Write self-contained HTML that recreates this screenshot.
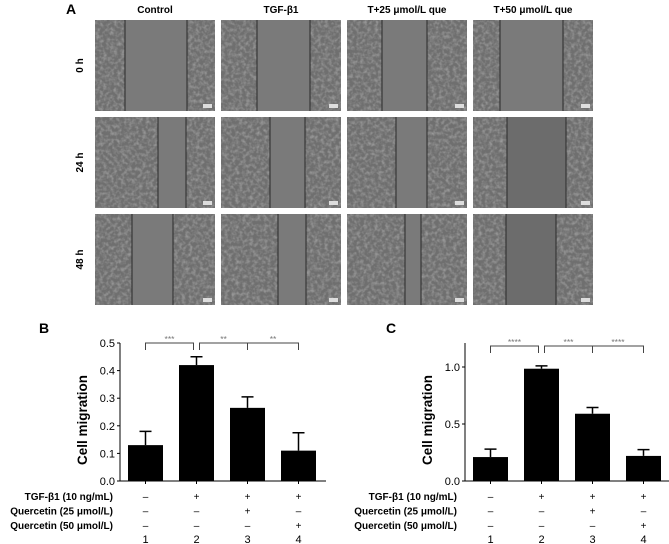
<!DOCTYPE html>
<html><head><meta charset="utf-8"><style>
body{margin:0;background:#fff;}
svg{display:block;font-family:"Liberation Sans",Arial,sans-serif;}
</style></head><body>
<svg id="fig" width="669" height="544" viewBox="0 0 669 544">
<defs>
<filter id="tex" x="0" y="0" width="100%" height="100%">
<feTurbulence type="fractalNoise" baseFrequency="0.28" numOctaves="2" seed="3" result="n"/>
<feColorMatrix type="matrix" values="0 0 0 0 0.62  0 0 0 0 0.62  0 0 0 0 0.62  0 0 0 0.9 -0.35"/>
</filter>
</defs>
<g id="panelA"></g>
<g id="chartB"></g>
<g id="chartC"></g>
</svg>
<script>
const NS='http://www.w3.org/2000/svg';
function mk(p,t,a,txt){const e=document.createElementNS(NS,t);for(const k in a)e.setAttribute(k,a[k]);if(txt!==undefined)e.textContent=txt;p.appendChild(e);return e;}

// Panel A
const colTitles=['Control','TGF-β1','T+25 μmol/L que','T+50 μmol/L que'];
const rowTitles=['0 h','24 h','48 h'];
const colX=[95,221,347,473], rowY=[20,117,214], pw=120, ph=91;
const wound=[[[125,187],[158,186],[132,173]],[[257,310],[270,305],[278,306]],[[382,427],[396,427],[405,421]],[[500,563],[507,566],[506,556]]];
const A=document.getElementById('panelA');
let t=mk(A,'text',{x:66,y:14,'font-size':14,'font-weight':'bold'},'A');

colTitles.forEach((c,i)=>{const e=mk(A,'text',{x:colX[i]+pw/2,y:13,'font-size':10,'font-weight':'bold','text-anchor':'middle'},c);
});
rowTitles.forEach((r,j)=>{const e=mk(A,'text',{x:0,y:0,'font-size':10,'font-weight':'bold','text-anchor':'middle',transform:`translate(83,${rowY[j]+ph/2}) rotate(-90)`},r);
});
colX.forEach((x,i)=>rowY.forEach((y,j)=>{
 const g=mk(A,'g',{});
 
 const [l,r]=wound[i][j];
 mk(g,'rect',{x:x,y:y,width:pw,height:ph,fill:'#6f6f6f'});
 mk(g,'rect',{x:x,y:y,width:l-x,height:ph,fill:'#6f6f6f',filter:'url(#tex)'});
 mk(g,'rect',{x:r,y:y,width:x+pw-r,height:ph,fill:'#6f6f6f',filter:'url(#tex)'});
 mk(g,'rect',{x:l,y:y,width:r-l,height:ph,fill:(i==3&&j>0)?'#6c6c6c':'#7a7a7a'});
 mk(g,'line',{x1:l,y1:y,x2:l,y2:y+ph,stroke:'#2a2a2a','stroke-width':1});
 mk(g,'line',{x1:r,y1:y,x2:r,y2:y+ph,stroke:'#2a2a2a','stroke-width':1});
 mk(g,'rect',{x:x+pw-12,y:y+ph-7,width:9,height:4,fill:'#ddd'});
}));

// Chart B data
const bCats=['1','2','3','4'];
const bVals=[0.13,0.42,0.265,0.11];
const bErr=[0.05,0.03,0.04,0.065];
const bTicks=[0,0.1,0.2,0.3,0.4,0.5];
const bTickLabels=['0.0','0.1','0.2','0.3','0.4','0.5'];
const bSig=['***','**','**'];
// Chart C data
const cCats=['1','2','3','4'];
const cVals=[0.21,0.985,0.59,0.22];
const cErr=[0.07,0.025,0.055,0.055];
const cTicks=[0,0.5,1.0];
const cTickLabels=['0.0','0.5','1.0'];
const cSig=['****','***','****'];
const tgf=['–','+','+','+'], q25=['–','–','+','–'], q50=['–','–','–','+'];

function chart(id,letter,lx,cats,vals,errs,ticks,tlabels,sig,o){
 const G=document.getElementById(id);
 const y=v=>o.y0-(v-0)*(o.y0-o.yTop)/o.vmax;
 const step=o.step, x=i=>o.x0+step*(i+0.5);
 const L=mk(G,'text',{x:lx,y:333,'font-size':14,'font-weight':'bold'},letter);
 
 const ya=mk(G,'line',{x1:o.x0,y1:o.axTop,x2:o.x0,y2:o.y0,stroke:'#000','stroke-width':1});
 
 const xa=mk(G,'line',{x1:o.x0,y1:o.y0,x2:o.x0+step*4+2,y2:o.y0,stroke:'#000','stroke-width':1});
 
 ticks.forEach((v,i)=>{mk(G,'line',{x1:o.x0-3,y1:y(v),x2:o.x0,y2:y(v),stroke:'#000'});
  const e=mk(G,'text',{x:o.x0-5,y:y(v)+4,'font-size':11,'text-anchor':'end'},tlabels[i]);
  });
 const yt=mk(G,'text',{x:0,y:0,'font-size':13.5,'font-weight':'bold','text-anchor':'middle',transform:`translate(${o.x0-33},${(o.y0+o.axTop)/2+8}) rotate(-90)`},'Cell migration');
 
 vals.forEach((v,i)=>{
  const b=mk(G,'rect',{x:x(i)-o.bw/2,y:y(v),width:o.bw,height:o.y0-y(v),fill:'#000'});
  
  const e=mk(G,'path',{d:`M${x(i)},${y(v)}V${y(v+errs[i])}M${x(i)-6},${y(v+errs[i])}H${x(i)+6}`,stroke:'#000','stroke-width':1.5,fill:'none'});
  
  mk(G,'line',{x1:x(i),y1:o.y0,x2:x(i),y2:o.y0+3,stroke:'#000'});
 });
 const by=o.brY, bh=7;
 const pairs=[[0,1],[1,2],[2,3]];
 pairs.forEach((p,k)=>{
  const x1=x(p[0])+(k==1?3:0), x2=x(p[1])-(k==0?3:0);
  const br=mk(G,'path',{d:`M${x1},${by+bh}V${by}H${x2}V${by+bh}`,stroke:'#444','stroke-width':1,fill:'none'});
  
  const s=mk(G,'text',{x:(x1+x2)/2,y:by-1,'font-size':8.5,fill:'#777','text-anchor':'middle'},sig[k]);
  
 });
 const rows=[['TGF-β1 (10 ng/mL)',tgf],['Quercetin (25 μmol/L)',q25],['Quercetin (50 μmol/L)',q50]];
 rows.forEach((r,j)=>{
  const yy=500+j*14.5;
  const e=mk(G,'text',{x:o.lblR,y:yy,'font-size':10,'font-weight':'bold','text-anchor':'end'},r[0]);
  
  r[1].forEach((s,i)=>{const c=mk(G,'text',{x:x(i),y:yy,'font-size':10,'text-anchor':'middle'},s);
   });
 });
 cats.forEach((c,i)=>{const e=mk(G,'text',{x:x(i),y:543,'font-size':11,'text-anchor':'middle'},c);
  });
}
chart('chartB','B',39,bCats,bVals,bErr,bTicks,bTickLabels,bSig,{x0:120,y0:481,yTop:343,vmax:0.5,axTop:343,step:51,bw:35,brY:343,lblR:113});
chart('chartC','C',386,cCats,cVals,cErr,cTicks,cTickLabels,cSig,{x0:465,y0:481,yTop:367,vmax:1.0,axTop:343,step:51,bw:35,brY:346,lblR:457});
</script>
</body></html>
